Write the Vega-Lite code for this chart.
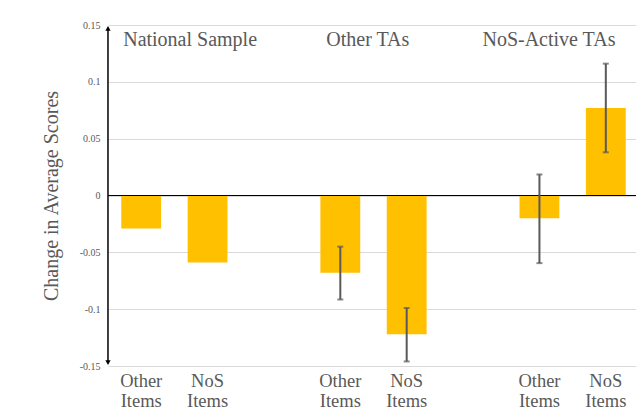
{
  "$schema": "https://vega.github.io/schema/vega-lite/v6.json",
  "width": 531,
  "height": 341,
  "autosize": "none",
  "padding": {"left": 108, "top": 25, "right": 0, "bottom": 46},
  "background": "white",
  "config": {
    "view": {"stroke": null},
    "font": "Liberation Serif"
  },
  "datasets": {
    "bars": [
      {"slot": "NS Other", "group": "National Sample", "item": "Other Items", "value": -0.029, "lo": null, "hi": null},
      {"slot": "NS NoS", "group": "National Sample", "item": "NoS Items", "value": -0.059, "lo": null, "hi": null},
      {"slot": "OT Other", "group": "Other TAs", "item": "Other Items", "value": -0.068, "lo": -0.0915, "hi": -0.045},
      {"slot": "OT NoS", "group": "Other TAs", "item": "NoS Items", "value": -0.122, "lo": -0.146, "hi": -0.099},
      {"slot": "NA Other", "group": "NoS-Active TAs", "item": "Other Items", "value": -0.02, "lo": -0.0595, "hi": 0.0185},
      {"slot": "NA NoS", "group": "NoS-Active TAs", "item": "NoS Items", "value": 0.077, "lo": 0.038, "hi": 0.116}
    ]
  },
  "layer": [
    {
      "data": {"name": "bars"},
      "mark": {"type": "bar", "color": "#FFC000"},
      "encoding": {
        "x": {
          "field": "slot", "type": "nominal",
          "scale": {"domain": ["NS Other", "NS NoS", "gap1", "OT Other", "OT NoS", "gap2", "NA Other", "NA NoS"], "paddingInner": 0.4, "paddingOuter": 0.2},
          "axis": {
            "title": null, "domain": false, "ticks": false, "labelAngle": 0,
            "labelExpr": "test(/Other$/, datum.value) ? ['Other', 'Items'] : test(/NoS$/, datum.value) ? ['NoS', 'Items'] : ''",
            "labelFont": "Liberation Serif", "labelFontSize": 18.5, "labelColor": "#595959",
            "labelPadding": 5, "labelLineHeight": 20, "labelBaseline": "top"
          }
        },
        "y": {
          "field": "value", "type": "quantitative",
          "scale": {"domain": [-0.15, 0.15], "nice": false},
          "axis": {
            "title": "Change in Average Scores",
            "values": [-0.15, -0.1, -0.05, 0, 0.05, 0.1, 0.15],
            "labelExpr": "replace(format(datum.value, '~g'), '\u2212', '-')",
            "labelFont": "Liberation Serif", "labelFontSize": 10, "labelColor": "#595959",
            "ticks": false, "labelPadding": 8,
            "domain": false,
            "grid": true, "gridColor": "#d9d9d9", "gridWidth": 1.2,
            "titleFont": "Liberation Serif", "titleFontSize": 20, "titleFontWeight": "normal", "titleColor": "#595959",
            "titlePadding": 18
          }
        }
      }
    },
    {
      "data": {"name": "bars"},
      "mark": {"type": "rule", "color": "black", "strokeWidth": 1.2},
      "encoding": {"y": {"datum": 0, "type": "quantitative"}}
    },
    {
      "data": {"values": [{"slot": "NS Other"}]},
      "mark": {"type": "rule", "color": "black", "strokeWidth": 1.5, "xOffset": -33.2},
      "encoding": {
        "x": {"field": "slot", "type": "nominal"},
        "y": {"datum": -0.147, "type": "quantitative"},
        "y2": {"datum": 0.147}
      }
    },
    {
      "data": {"values": [{"slot": "NS Other", "end": 0.147, "shape": "triangle-up"}, {"slot": "NS Other", "end": -0.147, "shape": "triangle-down"}]},
      "mark": {"type": "point", "filled": true, "color": "black", "opacity": 1, "size": 28, "xOffset": -33.2},
      "encoding": {
        "x": {"field": "slot", "type": "nominal"},
        "y": {"field": "end", "type": "quantitative"},
        "shape": {"field": "shape", "type": "nominal", "scale": null, "legend": null}
      }
    },
    {
      "data": {"name": "bars"},
      "transform": [{"filter": "isValid(datum.lo)"}],
      "mark": {"type": "rule", "color": "#595959", "strokeWidth": 2},
      "encoding": {
        "x": {"field": "slot", "type": "nominal"},
        "y": {"field": "lo", "type": "quantitative"},
        "y2": {"field": "hi"}
      }
    },
    {
      "data": {"name": "bars"},
      "transform": [{"filter": "isValid(datum.lo)"}],
      "mark": {"type": "tick", "color": "#595959", "size": 6, "thickness": 2},
      "encoding": {
        "x": {"field": "slot", "type": "nominal"},
        "y": {"field": "lo", "type": "quantitative"}
      }
    },
    {
      "data": {"name": "bars"},
      "transform": [{"filter": "isValid(datum.hi)"}],
      "mark": {"type": "tick", "color": "#595959", "size": 6, "thickness": 2},
      "encoding": {
        "x": {"field": "slot", "type": "nominal"},
        "y": {"field": "hi", "type": "quantitative"}
      }
    },
    {
      "data": {"values": [{"slot": "NS Other", "label": "National Sample"}]},
      "mark": {"type": "text", "align": "left", "baseline": "middle", "dx": -18, "fontSize": 20, "color": "#595959", "font": "Liberation Serif"},
      "encoding": {
        "x": {"field": "slot", "type": "nominal"},
        "y": {"datum": 0.137, "type": "quantitative"},
        "text": {"field": "label"}
      }
    },
    {
      "data": {"values": [{"slot": "OT Other", "label": "Other TAs"}]},
      "mark": {"type": "text", "align": "left", "baseline": "middle", "dx": -14, "fontSize": 20, "color": "#595959", "font": "Liberation Serif"},
      "encoding": {
        "x": {"field": "slot", "type": "nominal"},
        "y": {"datum": 0.137, "type": "quantitative"},
        "text": {"field": "label"}
      }
    },
    {
      "data": {"values": [{"slot": "NA Other", "label": "NoS-Active TAs"}]},
      "mark": {"type": "text", "align": "left", "baseline": "middle", "dx": -57, "fontSize": 20, "color": "#595959", "font": "Liberation Serif"},
      "encoding": {
        "x": {"field": "slot", "type": "nominal"},
        "y": {"datum": 0.137, "type": "quantitative"},
        "text": {"field": "label"}
      }
    }
  ]
}
